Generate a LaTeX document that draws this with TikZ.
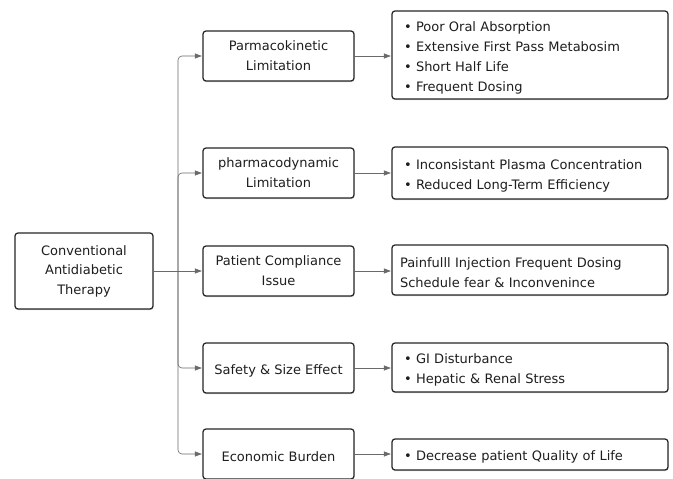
\documentclass[tikz,border=0pt]{standalone}
\usepackage{fontspec}
\setmainfont{DejaVu Sans}
\usetikzlibrary{arrows.meta,shadows}
\definecolor{boxline}{HTML}{262626}
\definecolor{conline}{HTML}{6A6A6A}
\definecolor{txt}{HTML}{1E1E1E}
\tikzset{
  box/.style={draw=boxline, line width=1.25pt, rounded corners=3pt, fill=white,
    drop shadow={shadow xshift=0.4pt, shadow yshift=-1.2pt, opacity=0.35, fill=gray},
    text=txt, align=center, font=\fontsize{13}{20}\selectfont, inner sep=0pt,
    execute at begin node={\rule{0pt}{15pt}}},
  midbox/.style={box, minimum width=151pt, minimum height=50pt},
  rbox/.style={box, minimum width=276pt, align=left, text width=252pt},
  conn/.style={draw=conline, line width=0.6pt},
  arr/.style={conn, -{Triangle[length=7pt,width=5pt]}, shorten >=0.5pt},
}
\begin{document}
\begin{tikzpicture}[x=1pt,y=-1pt]
\useasboundingbox (0,0) rectangle (673,479);
\fill[white] (0,0) rectangle (673,479);
\begin{scope}
\clip (0,0) rectangle (673,479);
\node[box, minimum width=138pt, minimum height=76pt, font=\fontsize{13}{19.5}\selectfont] (L) at (84,271) {Conventional\\Antidiabetic\\Therapy};

\node[midbox] (M1) at (278.5,56) {Parmacokinetic\\Limitation};
\node[midbox] (M2) at (278.5,173) {pharmacodynamic\\Limitation};
\node[midbox] (M3) at (278.5,271) {Patient Compliance\\Issue};
\node[midbox] (M4) at (278.5,368) {Safety \& Size Effect};
\node[midbox] (M5) at (278.5,454) {Economic Burden};

\node[rbox, minimum height=88pt] (R1) at (530,55) {• Poor Oral Absorption\\• Extensive First Pass Metabosim\\• Short Half Life\\• Frequent Dosing};
\node[rbox, minimum height=52pt] (R2) at (530,173) {• Inconsistant Plasma Concentration\\• Reduced Long-Term Efficiency};
\node[rbox, minimum height=50pt, text width=260pt] (R3) at (530,270) {Painfulll Injection Frequent Dosing\\Schedule fear \& Inconvenince};
\node[rbox, minimum height=49pt] (R4) at (530,367.5) {• GI Disturbance\\• Hepatic \& Renal Stress};
\node[rbox, minimum height=31pt] (R5) at (530,454.5) {• Decrease patient Quality of Life};

\coordinate (J) at (178,271);
\draw[conn] (L.east) -- (J);
\draw[arr, rounded corners=4pt] (J) |- (M1.west);
\draw[arr, rounded corners=4pt] (J) |- (M2.west);
\draw[arr] (J) -- (M3.west);
\draw[arr, rounded corners=4pt] (J) |- (M4.west);
\draw[arr, rounded corners=4pt] (J) |- (M5.west);

\draw[arr] (M1.east) -- (M1.east -| R1.west);
\draw[arr] (M2.east) -- (M2.east -| R2.west);
\draw[arr] (M3.east) -- (M3.east -| R3.west);
\draw[arr] (M4.east) -- (M4.east -| R4.west);
\draw[arr] (M5.east) -- (M5.east -| R5.west);
\end{scope}
\end{tikzpicture}
\end{document}
